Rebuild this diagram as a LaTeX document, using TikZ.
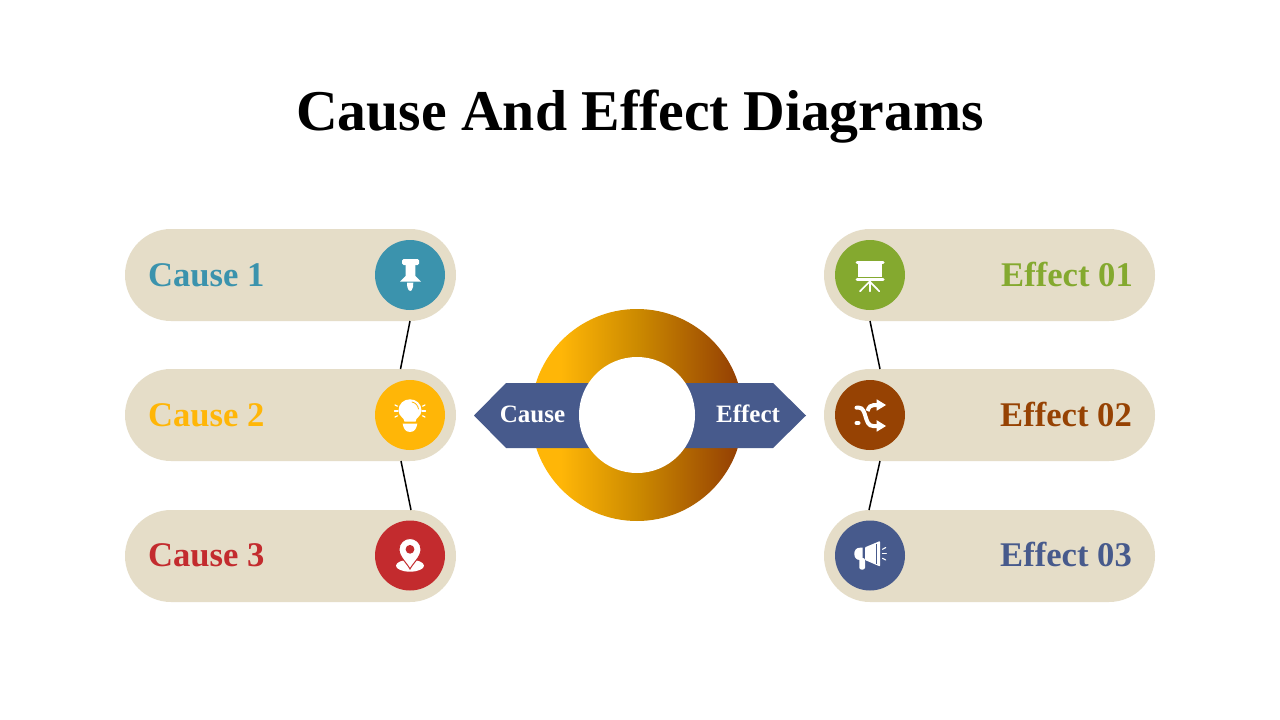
\documentclass[tikz,border=0pt]{standalone}
\usepackage{fontspec}
\usetikzlibrary{shapes.misc,calc}
\setmainfont{Liberation Serif}[BoldFont={Liberation Serif Bold}]
\definecolor{cPill}{HTML}{E5DDC8}
\definecolor{cTeal}{HTML}{3B93AD}
\definecolor{cYellow}{HTML}{FFB607}
\definecolor{cRed}{HTML}{C32B2E}
\definecolor{cGreen}{HTML}{84A92F}
\definecolor{cBrown}{HTML}{964203}
\definecolor{cNavy}{HTML}{475A8C}
\definecolor{cMid}{HTML}{CC8A00}
\pgfdeclarehorizontalshading{ringshade}{100bp}{color(0bp)=(cYellow); color(32bp)=(cYellow); color(50bp)=(cMid); color(73bp)=(cBrown); color(100bp)=(cBrown)}
\tikzset{
  pill/.style={rounded rectangle,fill=cPill,minimum width=331pt,minimum height=92pt,inner sep=0pt,draw=none},
  iconbg/.style={circle,minimum size=70pt,inner sep=0pt,draw=none},
  lab/.style={inner sep=0pt,font=\bfseries\fontsize{34.6}{34.6}\selectfont},
  ban/.style={inner sep=0pt,text=white,font=\bfseries\fontsize{25}{25}\selectfont},
  link/.style={line width=1.5pt,black},
  ico/.style={fill=white,draw=none},
  icl/.style={draw=white,line cap=round,line join=round}
}
\begin{document}
\begin{tikzpicture}[x=1pt,y=-1pt]
\useasboundingbox (0,0) rectangle (1280,720);
\fill[white] (0,0) rectangle (1280,720);
\node[inner sep=0pt,anchor=base,font=\bfseries\fontsize{57.7}{57.7}\selectfont] (title) at (640,130) {Cause And Effect Diagrams};
% pills
\node[pill] (pL1) at (290.5,275) {};
\node[pill] (pL2) at (290.5,415) {};
\node[pill] (pL3) at (290.5,556) {};
\node[pill] (pR1) at (989.5,275) {};
\node[pill] (pR2) at (989.5,415) {};
\node[pill] (pR3) at (989.5,556) {};
% connectors
\coordinate (a1) at (410,321); \coordinate (a2) at (400.5,369);
\coordinate (b1) at (401,461); \coordinate (b2) at (411,510);
\coordinate (c1) at (870,321); \coordinate (c2) at (880,369);
\coordinate (d1) at (880,461); \coordinate (d2) at (869,510);
\draw[link] (a1) -- (a2);
\draw[link] (b1) -- (b2);
\draw[link] (c1) -- (c2);
\draw[link] (d1) -- (d2);
% icon discs
\node[iconbg,fill=cTeal] (iL1) at (410,275) {};
\node[iconbg,fill=cYellow] (iL2) at (410,415) {};
\node[iconbg,fill=cRed] (iL3) at (410,555.5) {};
\node[iconbg,fill=cGreen] (iR1) at (870,275) {};
\node[iconbg,fill=cBrown] (iR2) at (870,415) {};
\node[iconbg,fill=cNavy] (iR3) at (870,555.5) {};
% labels
\node[lab,anchor=base west,text=cTeal] (t1) at (148,286) {Cause 1};
\node[lab,anchor=base west,text=cYellow] (t2) at (148,426) {Cause 2};
\node[lab,anchor=base west,text=cRed] (t3) at (148,566) {Cause 3};
\node[lab,anchor=base east,text=cGreen] (t4) at (1133,286) {Effect 01};
\node[lab,anchor=base east,text=cBrown] (t5) at (1132,426) {Effect 02};
\node[lab,anchor=base east,text=cNavy] (t6) at (1132,566) {Effect 03};
% centre
\node[circle,minimum size=212pt,inner sep=0pt,shade,shading=ringshade] (ring) at (637,415) {};
\fill[cNavy] (474,415.5) -- (506,383) -- (637,383) -- (637,448) -- (506,448) -- cycle;
\fill[cNavy] (806,415.5) -- (773,383) -- (637,383) -- (637,448) -- (773,448) -- cycle;
\node[circle,minimum size=116pt,inner sep=0pt,fill=white] (hole) at (637,415) {};
\node[ban,anchor=base] (bc) at (532.5,422.5) {Cause};
\node[ban,anchor=base] (be) at (748,422.5) {Effect};
% pushpin
\fill[ico,rounded corners=1.5pt] (402,259) rectangle (419,265);
\fill[ico] (405.7,265) -- (415.3,265) -- (415.3,276) -- (421,281.7) -- (400,281.7) -- (405.7,276) -- cycle;
\fill[ico] (407,282.6) -- (413.3,282.6) -- (413,287) .. controls (412.5,290) and (411,291) .. (410.2,291) .. controls (409.4,291) and (407.8,290) .. (407.3,287) -- cycle;
% bulb
\fill[ico] (404.5,421.7) .. controls (404.5,417.5) and (398.5,416.5) .. (398.5,410.5) .. controls (398.5,404) and (403.5,399.3) .. (410,399.3) .. controls (416.5,399.3) and (421.5,404) .. (421.5,410.5) .. controls (421.5,416.5) and (415.5,417.5) .. (415.5,421.7) -- cycle;
\fill[ico] (402.7,423.7) -- (417.3,423.7) .. controls (416.5,428) and (415,432) .. (410,432) .. controls (405,432) and (403.5,428) .. (402.7,423.7) -- cycle;
\draw[cYellow,line width=0.8pt,line cap=round] (412,402) .. controls (415.5,402.7) and (418,405.5) .. (418.5,409);
\foreach \a/\b/\c/\d in {395/405/397.5/406.2,394.5/411/398/411,395/417/397.5/415.8,425/405/422.5/406.2,425.5/411/422/411,425/417/422.5/415.8}
  \draw[icl,line width=1.2pt] (\a,\b) -- (\c,\d);
% location
\fill[ico] (410,565.7) ellipse (14pt and 6pt);
\fill[ico,draw=cRed,line width=1pt] (410,569) .. controls (407,563) and (399,557) .. (399,549.3) .. controls (399,543) and (404,538.5) .. (410,538.5) .. controls (416,538.5) and (421,543) .. (421,549.3) .. controls (421,557) and (413,563) .. (410,569) -- cycle;
\fill[cRed] (410,549.3) circle (4.4pt);
% presentation board
\draw[icl,line width=3pt] (857,262.5) -- (883,262.5);
\fill[ico] (857.5,264) rectangle (881.7,277);
\draw[icl,line width=3pt] (857,279.7) -- (883,279.7);
\draw[icl,line width=1.7pt] (869.7,281.5) -- (860,291.3);
\draw[icl,line width=1.7pt] (869.7,281.5) -- (869.7,291.3);
\draw[icl,line width=1.7pt] (869.7,281.5) -- (879.3,291.3);
% shuffle
\draw[white,line width=4pt,line cap=round] (856.5,407.7) -- (859,407.7) .. controls (867,407.7) and (864,426) .. (873,426) -- (878,426);
\draw[white,line width=4pt] (867.5,411) .. controls (869,406.5) and (871,405) .. (874,405) -- (878,405);
\draw[white,line width=4pt,line cap=round] (856.5,423) -- (858.5,423);
\fill[ico] (886,405) -- (876.7,399.3) -- (876.7,410.7) -- cycle;
\fill[ico] (886,426) -- (876.7,420.2) -- (876.7,431.7) -- cycle;
% megaphone
\fill[ico] (862.7,547.7) -- (860,547.7) .. controls (856,547.7) and (854.3,550.5) .. (854.3,553.8) .. controls (854.3,557.2) and (856,560) .. (860,560) -- (862.7,560) -- cycle;
\fill[ico,rounded corners=2pt] (859.3,558) -- (865,558) -- (865,569.5) -- (859.3,569.5) -- cycle;
\fill[ico,rounded corners=0.8pt] (865,547.3) -- (880,541) -- (880,566.5) -- (865,560) -- cycle;
\draw[cNavy,line width=1pt] (876.7,544) -- (876.7,563.6);
\foreach \a/\b/\c/\d in {882.5/549.3/885.7/547.5,882.5/553.7/886.3/553.7,882.5/558.3/885.7/560}
  \draw[icl,line width=1.1pt] (\a,\b) -- (\c,\d);
\end{tikzpicture}
\end{document}
